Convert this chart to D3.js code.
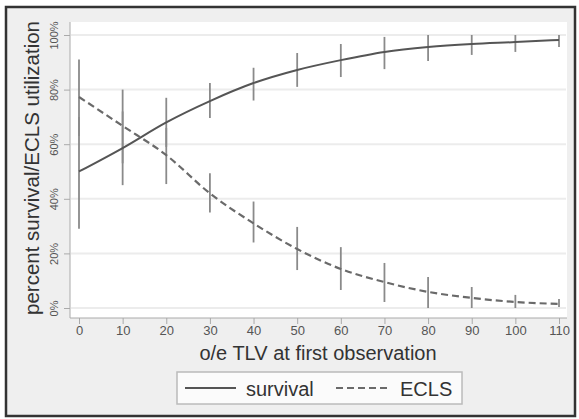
<!DOCTYPE html>
<html>
<head>
<meta charset="utf-8">
<script src="https://cdn.jsdelivr.net/npm/d3@7"></script>
<style>
  body { margin: 0; background: #fff; }
  text { font-family: "Liberation Sans", Arial, sans-serif; }
</style>
</head>
<body>
<script>
// o/e TLV values
const tlv = [0, 10, 20, 30, 40, 50, 60, 70, 80, 90, 100, 110]

// predicted survival (%) with 95% CI
const survival   = [50, 58.6, 68, 75.8, 82.4, 87.2, 90.8, 93.8, 95.6, 96.7, 97.4, 98.2]
const survivalLo = [29, 45, 59, 69.6, 76, 81, 84.6, 87.5, 90.5, 92.7, 93.8, 95.6]
const survivalHi = [70, 72, 77, 82.4, 88, 93.4, 96.7, 99.3, 100, 100, 100, 100]

// predicted ECLS utilization (%) with 95% CI
const ecls   = [77.3, 66.7, 56, 42, 31, 21.6, 14.3, 9.5, 5.9, 3.7, 2.2, 1.5]
const eclsLo = [63, 53, 45.4, 35, 24, 13.9, 6.6, 2.2, 0, 0, 0, 0.4]
const eclsHi = [91, 80, 66, 49.4, 39, 29.7, 22.3, 16.5, 11.4, 7.7, 4.8, 3.3]

const yTicks = [0, 20, 40, 60, 80, 100]
const xTicks = tlv

function drawChart() {
  let dimensions = {
    width: 579,
    height: 419,
  }

  const wrapper = d3.select("body")
    .append("svg")
      .attr("width", dimensions.width)
      .attr("height", dimensions.height)

  // outer frame (stata-like grey background)
  wrapper.append("rect")
    .attr("x", 6).attr("y", 7)
    .attr("width", 569).attr("height", 409)
    .attr("fill", "#efefef")
    .attr("stroke", "#333")
    .attr("stroke-width", 2.5)

  // plot region
  wrapper.append("rect")
    .attr("x", 70).attr("y", 22)
    .attr("width", 497).attr("height", 296)
    .attr("fill", "#fff")

  const xScale = d3.scaleLinear()
    .domain([0, 110])
    .range([79, 559])

  const yScale = d3.scaleLinear()
    .domain([0, 100])
    .range([308, 35])

  // gridlines
  wrapper.append("g")
    .selectAll("line")
    .data(yTicks)
    .join("line")
      .attr("x1", 71).attr("x2", 566)
      .attr("y1", d => yScale(d)).attr("y2", d => yScale(d))
      .attr("stroke", "#ececec")
      .attr("stroke-width", 2)

  // axes
  const yAxis = wrapper.append("g")
    .attr("transform", "translate(70,0)")
    .call(d3.axisLeft(yScale).tickValues(yTicks).tickSize(6).tickFormat(d => d + "%"))
  yAxis.select(".domain").attr("stroke", "#aaa").attr("d", "M0,22V318")
  yAxis.selectAll(".tick line").attr("stroke", "#aaa")
  yAxis.selectAll(".tick text")
    .attr("transform", "rotate(-90)")
    .attr("x", 0).attr("y", -12)
    .attr("dy", 0)
    .style("text-anchor", "middle")
    .style("font-size", "11px")
    .attr("fill", "#555")

  const xAxis = wrapper.append("g")
    .attr("transform", "translate(0,318)")
    .call(d3.axisBottom(xScale).tickValues(xTicks).tickSize(6))
  xAxis.select(".domain").attr("stroke", "#aaa").attr("d", "M70,0H567")
  xAxis.selectAll(".tick line").attr("stroke", "#aaa")
  xAxis.selectAll(".tick text")
    .attr("y", 8)
    .attr("dy", "0.71em")
    .style("font-size", "13px")
    .attr("fill", "#555")

  // axis titles
  wrapper.append("text")
    .attr("x", 318).attr("y", 360)
    .style("text-anchor", "middle")
    .style("font-size", "20px")
    .attr("fill", "#333")
    .text("o/e TLV at first observation")

  wrapper.append("text")
    .attr("transform", "translate(39,168) rotate(-90)")
    .style("text-anchor", "middle")
    .style("font-size", "20.5px")
    .attr("fill", "#333")
    .text("percent survival/ECLS utilization")

  // error bars
  const bars = [
    { lo: survivalLo, hi: survivalHi },
    { lo: eclsLo, hi: eclsHi },
  ]
  bars.forEach(b => {
    wrapper.append("g")
      .selectAll("line")
      .data(tlv)
      .join("line")
        .attr("x1", d => xScale(d)).attr("x2", d => xScale(d))
        .attr("y1", (d, i) => yScale(b.lo[i]))
        .attr("y2", (d, i) => yScale(b.hi[i]))
        .attr("stroke", "#8a8a8a")
        .attr("stroke-width", 1.8)
  })

  // lines
  const lineGen = values => d3.line()
    .x(d => xScale(d))
    .y((d, i) => yScale(values[i]))
    .curve(d3.curveMonotoneX)

  wrapper.append("path")
    .attr("d", lineGen(survival)(tlv))
    .attr("fill", "none")
    .attr("stroke", "#555")
    .attr("stroke-width", 2)

  wrapper.append("path")
    .attr("d", lineGen(ecls)(tlv))
    .attr("fill", "none")
    .attr("stroke", "#6a6a6a")
    .attr("stroke-width", 2.2)
    .attr("stroke-dasharray", "7,4")

  // legend
  const legend = wrapper.append("g")
  legend.append("rect")
    .attr("x", 177).attr("y", 372)
    .attr("width", 285).attr("height", 32)
    .attr("fill", "#fbfbfb")
    .attr("stroke", "#bbb")
    .attr("stroke-width", 1.5)
  legend.append("line")
    .attr("x1", 185).attr("x2", 236).attr("y1", 388).attr("y2", 388)
    .attr("stroke", "#555").attr("stroke-width", 2)
  legend.append("text")
    .attr("x", 246).attr("y", 396)
    .style("font-size", "20px").attr("fill", "#333")
    .text("survival")
  legend.append("line")
    .attr("x1", 336).attr("x2", 391).attr("y1", 388).attr("y2", 388)
    .attr("stroke", "#6a6a6a").attr("stroke-width", 2.2)
    .attr("stroke-dasharray", "7,4")
  legend.append("text")
    .attr("x", 400).attr("y", 396)
    .style("font-size", "20px").attr("fill", "#333")
    .text("ECLS")
}
drawChart()
</script>
</body>
</html>
